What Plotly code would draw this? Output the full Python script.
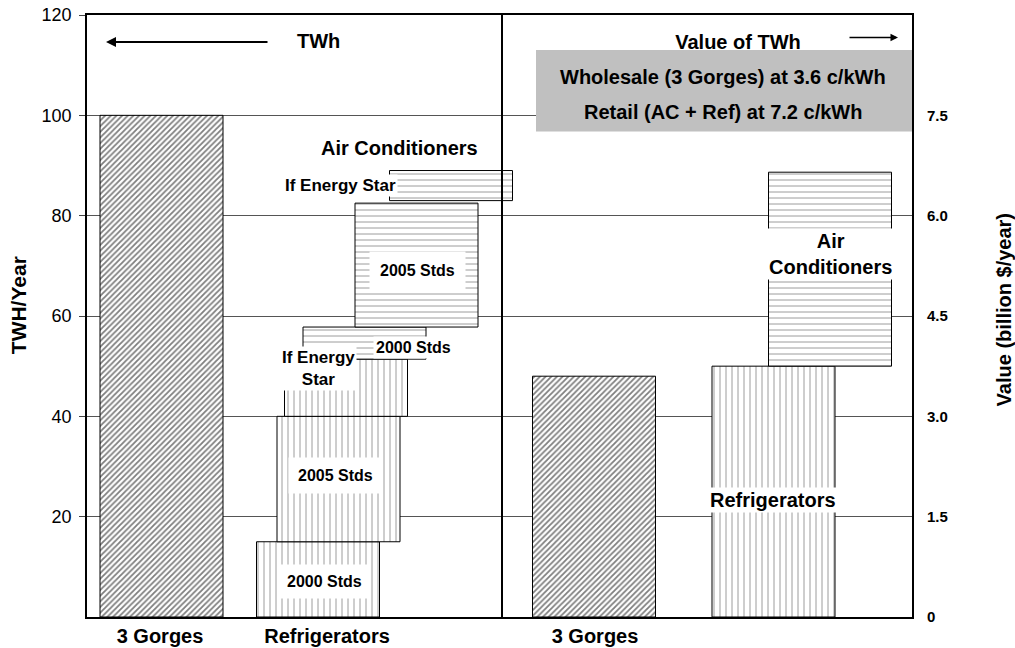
import plotly.graph_objects as go

# ---------------- data ----------------
category_labels = ["3 Gorges", "Refrigerators", "3 Gorges"]

gorges_twh = 100.0                       # TWh/year, left axis

ref_segments = ["2000 Stds", "2005 Stds", "If Energy Star"]
ref_base_twh = [0.0, 15.0, 40.0]
ref_top_twh = [15.0, 40.0, 51.4]

ac_segments = ["2000 Stds", "2005 Stds", "If Energy Star"]
ac_base_twh = [51.4, 57.8, 83.0]
ac_top_twh = [57.8, 82.5, 89.0]

# value of TWh, billion $/year, right axis
value_gorges = 3.6
value_ref = 3.75
value_ac_base = 3.75
value_ac_top = 6.65

left_ticks = [20, 40, 60, 80, 100, 120]
right_ticks = [0, 1.5, 3.0, 4.5, 6.0, 7.5]
right_tick_text = ["0", "1.5", "3.0", "4.5", "6.0", "7.5"]

# ---------------- layout positions (x in plot units) ----------------
BW = 1.23
x_gorges_twh = 0.745
x_ref = [2.31, 2.515, 2.59]
x_ac = [2.775, 3.295, 3.64]
x_val_gorges = 5.07
x_val_ref = 6.865
x_val_ac = 7.43
label_x = [0.73, 2.40, 5.08]

FONT = "Liberation Sans, Arial, sans-serif"
diag = dict(shape="/", fgcolor="black", bgcolor="white", size=4, solidity=0.45)
vert = dict(shape="|", fgcolor="#222", bgcolor="white", size=6, solidity=0.15)
horiz = dict(shape="-", fgcolor="#222", bgcolor="white", size=6, solidity=0.15)
outline = dict(color="black", width=1)

fig = go.Figure()

fig.add_trace(go.Bar(x=[x_gorges_twh], y=[gorges_twh], base=[0], width=[BW],
                     marker=dict(color="white", pattern=diag, line=outline),
                     name="3 Gorges", hoverinfo="skip"))

for i, name in enumerate(ref_segments):
    fig.add_trace(go.Bar(x=[x_ref[i]], y=[ref_top_twh[i] - ref_base_twh[i]],
                         base=[ref_base_twh[i]], width=[BW],
                         marker=dict(color="white", pattern=vert, line=outline),
                         name="Ref " + name, hoverinfo="skip"))

for i, name in enumerate(ac_segments):
    fig.add_trace(go.Bar(x=[x_ac[i]], y=[ac_top_twh[i] - ac_base_twh[i]],
                         base=[ac_base_twh[i]], width=[BW],
                         marker=dict(color="white", pattern=horiz, line=outline),
                         name="AC " + name, hoverinfo="skip"))

fig.add_trace(go.Bar(x=[x_val_gorges], y=[value_gorges], base=[0], width=[BW],
                     marker=dict(color="white", pattern=diag, line=outline),
                     yaxis="y2", name="Value 3 Gorges", hoverinfo="skip"))
fig.add_trace(go.Bar(x=[x_val_ref], y=[value_ref], base=[0], width=[BW],
                     marker=dict(color="white", pattern=vert, line=outline),
                     yaxis="y2", name="Value Ref", hoverinfo="skip"))
fig.add_trace(go.Bar(x=[x_val_ac], y=[value_ac_top - value_ac_base], base=[value_ac_base],
                     width=[BW],
                     marker=dict(color="white", pattern=horiz, line=outline),
                     yaxis="y2", name="Value AC", hoverinfo="skip"))

# "Value of TWh" heading drawn as a trace so the grey box can overlap it
fig.add_trace(go.Scatter(x=[6.51], y=[114.2], mode="text", text=["<b>Value of TWh</b>"],
                         textfont=dict(size=20, family=FONT, color="black"),
                         hoverinfo="skip", showlegend=False))

fig.update_layout(
    width=1015, height=648,
    margin=dict(l=87, r=103, t=15, b=31, autoexpand=False),
    paper_bgcolor="white", plot_bgcolor="white",
    barmode="overlay", showlegend=False,
    font=dict(family=FONT, color="black"),
    xaxis=dict(range=[0, 8.25], tickvals=label_x,
               ticktext=["<b>%s</b>" % t for t in category_labels],
               tickfont=dict(size=20), ticks="", showgrid=False, zeroline=False,
               showline=True, linecolor="black", linewidth=1.5, mirror=True,
               automargin=False, fixedrange=True),
    yaxis=dict(range=[0, 120], tickvals=left_ticks, ticks="outside", ticklen=6,
               tickcolor="#444", tickfont=dict(size=18), ticklabelstandoff=4,
               ticklabeloverflow="allow",
               showgrid=True, gridcolor="#555", gridwidth=1, zeroline=False,
               showline=True, linecolor="black", linewidth=1.5, mirror=True,
               automargin=False),
    yaxis2=dict(range=[0, 9], overlaying="y", side="right", tickvals=right_ticks,
                ticktext=["<b>%s</b>" % t for t in right_tick_text],
                tickfont=dict(size=15), ticks="", ticklabelstandoff=14,
                ticklabeloverflow="allow",
                showgrid=False, zeroline=False, showline=False, automargin=False),
)

# divider
fig.add_shape(type="line", xref="x", yref="paper", x0=4.15, x1=4.15, y0=0, y1=1,
              line=dict(color="black", width=2))
# gray box
fig.add_shape(type="rect", xref="x", yref="y", x0=4.49, x1=8.25, y0=96.8, y1=113,
              fillcolor="#c0c0c0", line=dict(width=0), layer="above")

def ann(text, x, y, size=12, bg=None, **kw):
    d = dict(text=text, x=x, y=y, xref="x", yref="y", showarrow=False,
             font=dict(size=size, family=FONT, color="black"))
    if bg:
        d.update(bgcolor=bg)
    d.update(kw)
    fig.add_annotation(**d)

ann("<b>Wholesale (3 Gorges) at 3.6 c/kWh</b>", 6.36, 107.6, size=20)
ann("<b>Retail (AC + Ref) at 7.2 c/kWh</b>", 6.36, 100.6, size=20)
ann("<b>TWh</b>", 2.08, 114.8, size=20, xanchor="left")

# arrows
fig.add_annotation(x=0.19, y=114.6, ax=1.82, ay=114.6, xref="x", yref="y",
                   axref="x", ayref="y", showarrow=True, arrowhead=2,
                   arrowwidth=2, arrowsize=1, arrowcolor="black", text="")
fig.add_annotation(x=8.11, y=115.5, ax=7.61, ay=115.5, xref="x", yref="y",
                   axref="x", ayref="y", showarrow=True, arrowhead=2,
                   arrowwidth=1.5, arrowsize=1, arrowcolor="black", text="")

# bar labels
ann("<b>Air Conditioners</b>", 3.12, 93.4, size=20)
ann("<b>If Energy Star</b>", 3.11, 86.0, size=17, bg="white", xanchor="right")
ann("<b>2005 Stds</b>", 3.30, 69.0, size=16, bg="white", borderpad=10)
ann("<b>2000 Stds</b>", 3.26, 53.8, size=16, bg="white", borderpad=2)
ann("<b>If Energy<br>Star</b>", 2.31, 49.5, size=17, bg="white", borderpad=1)
ann("<b>2005 Stds</b>", 2.48, 28.2, size=16, bg="white", borderpad=9)
ann("<b>2000 Stds</b>", 2.37, 7.0, size=16, bg="white", borderpad=8)
ann("<b>Air<br>Conditioners</b>", 7.43, 72.4, size=20, bg="white")
ann("<b>Refrigerators</b>", 6.86, 23.4, size=20, bg="white")

# axis titles
fig.add_annotation(text="<b>TWH/Year</b>", x=-0.0836, y=0.518, xref="paper", yref="paper",
                   xanchor="center", yanchor="middle",
                   showarrow=False, textangle=-90, font=dict(size=21, family=FONT))
fig.add_annotation(text="<b>Value (billion $/year)</b>", x=1.112, y=0.51, xref="paper",
                   yref="paper", xanchor="center", yanchor="middle",
                   showarrow=False, textangle=-90,
                   font=dict(size=20, family=FONT))

fig.write_html("out.html", config={"displayModeBar": False},
               post_script="document.body.style.margin='0';")
